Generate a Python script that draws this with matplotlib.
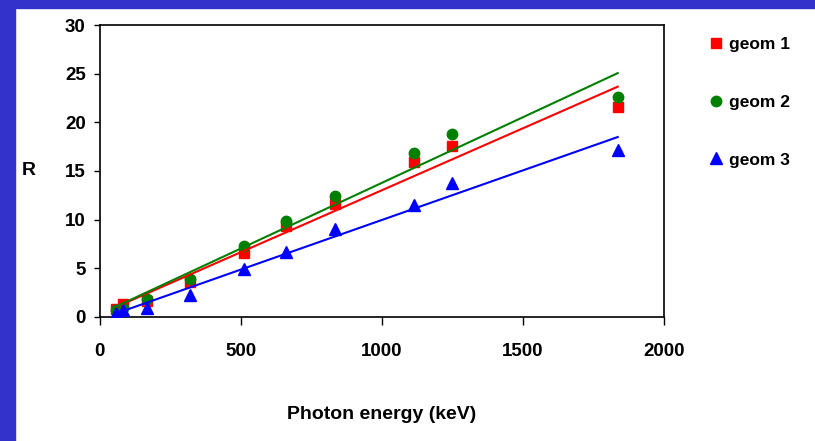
import matplotlib.pyplot as plt
from matplotlib.patches import Rectangle
import numpy as np

plt.rcParams['font.family'] = ['Liberation Sans', 'DejaVu Sans']
plt.rcParams['font.weight'] = 'bold'

# photon energies (keV) and R values
energy = [59.5, 81, 166, 320, 511, 662, 835, 1115, 1250, 1836]
geom1 = [0.8, 1.3, 1.6, 3.6, 6.6, 9.3, 11.6, 15.9, 17.6, 21.6]
geom2 = [0.7, 0.9, 1.8, 3.9, 7.3, 9.9, 12.4, 16.8, 18.8, 22.6]
geom3 = [0.4, 0.7, 0.9, 2.3, 4.9, 6.7, 9.0, 11.5, 13.8, 17.2]

labels = ['geom 1', 'geom 2', 'geom 3']
colors = ['#FF0000', '#008000', '#0000FF']
markers = ['s', 'o', '^']
sizes = [7.5, 7.5, 8.5]

fig = plt.figure(figsize=(8.15, 4.41), dpi=100)
# blue slide border
fig.patches.append(Rectangle((0, 0), 15 / 815, 1, transform=fig.transFigure,
                             color='#3333CC', zorder=-1))
fig.patches.append(Rectangle((0, 1 - 8 / 441), 1, 8 / 441, transform=fig.transFigure,
                             color='#3333CC', zorder=-1))

ax = fig.add_axes([0.1223, 0.2812, 0.6924, 0.6621])

x = np.array(energy)
for ys, lab, c, m, s in zip([geom1, geom2, geom3], labels, colors, markers, sizes):
    ax.plot(energy, ys, linestyle='none', marker=m, color=c, markersize=s,
            label=lab, zorder=3)
    # linear trendline
    k, b = np.polyfit(x, ys, 1)
    xs = np.array([x.min(), x.max()])
    ax.plot(xs, k * xs + b, color=c, linewidth=1.5, zorder=4)

ax.set_xlim(0, 2000)
ax.set_ylim(0, 30)
ax.set_xticks(range(0, 2001, 500))
ax.set_yticks(range(0, 31, 5))
ax.tick_params(axis='x', direction='out', length=6, width=1, pad=13, labelsize=13.5)
ax.tick_params(axis='y', direction='out', length=4, width=1, pad=6, labelsize=13.5)
for sp in ax.spines.values():
    sp.set_linewidth(1.2)

ax.set_xlabel('Photon energy (keV)', fontsize=14, fontweight='bold', labelpad=33)
ax.set_ylabel('R', fontsize=14, fontweight='bold', rotation=0, va='center', ha='center')
ax.yaxis.set_label_coords(-0.125, 0.5)

fig.legend(loc='upper left', bbox_to_anchor=(706 / 815, 1 - 37 / 441), frameon=False,
           fontsize=12.5, labelspacing=2.45, handletextpad=0.1, handlelength=1.2,
           borderpad=0, borderaxespad=0)

fig.savefig('out.png', dpi=100)
